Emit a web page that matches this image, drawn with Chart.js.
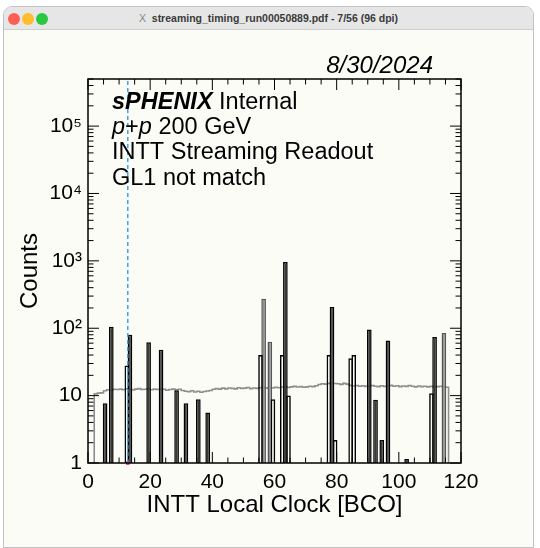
<!DOCTYPE html>
<html>
<head>
<meta charset="utf-8">
<script src="https://cdn.jsdelivr.net/npm/chart.js@4.4.1/dist/chart.umd.min.js"></script>
<style>
  html, body { margin: 0; padding: 0; background: #fff; width: 540px; height: 548px; overflow: hidden; }
  #win { position: absolute; left: 3px; top: 6px; width: 529px; height: 540px; background: #fcfcf7;
         border: 1px solid #c2c2c2; border-radius: 9px 9px 0 0; overflow: hidden; }
  #bar { position: relative; height: 22px; background: #e6e6e6; border-bottom: 1px solid #cfcfcf;
         font: bold 10.5px 'Liberation Sans', Arial, sans-serif; color: #3a3a3a; text-align: center; line-height: 22px; }
  .dot { position: absolute; top: 6px; width: 12px; height: 12px; border-radius: 50%; }
  #box { position: absolute; left: 0; top: 0; width: 540px; height: 548px; }
</style>
</head>
<body>
<div id="win">
  <div id="bar">
    <span class="dot" style="left:4px;background:#fe5f57"></span>
    <span class="dot" style="left:18px;background:#febc2e"></span>
    <span class="dot" style="left:32px;background:#28c840"></span>
    <span style="color:#888;font-weight:normal">X</span>&nbsp; streaming_timing_run00050889.pdf - 7/56 (96 dpi)
  </div>
</div>
<div id="box"><canvas id="c" width="540" height="548"></canvas></div>
<script>
// histogram bins (BCO) and counts
const darkBins   = [5, 7, 13, 19, 23, 28, 31, 35, 38, 63, 78, 90, 92, 94, 96, 102, 111];
const darkCounts = [7.7, 105, 80, 62, 48, 12, 7.7, 8.8, 5.6, 960, 207, 96, 8.7, 2.2, 66, 1.15, 74];
const openBins   = [12, 55, 59, 62, 64, 77, 79, 84, 85, 110];
const openCounts = [28, 40, 8.8, 40, 10, 40, 2.2, 36, 40, 10.8];
const grayBins   = [56, 58, 114];
const grayCounts = [275, 63, 85];

// flat "not matched" distribution, bins 2..115
const noiseStartBin = 2;
const noiseCounts = [
  10.6, 10.9, 11.0,
  11.8, 12.2, 12.0, 12.4, 12.3,
  12.5, 12.2, 12.6, 12.4, 12.1, 12.5, 12.7, 12.3, 12.4, 12.6,
  12.2, 12.5, 12.3, 12.6, 12.4, 12.0, 12.3, 12.5, 12.2, 12.4,
  11.9, 11.6, 11.4, 11.8, 11.3, 11.6, 11.2, 11.5, 11.7, 11.9,
  12.4, 12.7, 12.5, 12.9, 12.6, 13.0, 12.8, 12.6, 13.1, 12.8,
  12.9, 13.2, 12.7, 13.0, 12.8, 13.1, 13.3, 12.9, 13.2, 13.0,
  13.3, 13.1, 13.4, 13.6, 13.2, 13.5, 13.7, 13.4, 13.6, 13.3,
  13.5, 13.8, 13.6, 14.0, 14.6, 15.0, 14.8, 15.2, 14.9, 15.1,
  15.0, 14.7, 15.2, 14.8, 14.2, 13.9, 14.1, 13.8, 14.0, 13.7,
  13.9, 14.1, 13.8, 13.6, 14.0, 13.7, 13.9, 14.2, 13.8, 14.0,
  13.6, 13.9, 13.7, 14.1, 13.8, 13.5, 13.9, 13.6, 13.8, 13.5,
  13.7, 13.4, 13.6, 13.8, 13.5, 13.3
];

const markerBCO = 12.8;
const xTicks = [0, 20, 40, 60, 80, 100, 120];
const yTicks = [1, 10, 100, 1000, 10000, 100000];
const yTickLabels = ['1', '10', '10²', '10³', '10⁴', '10⁵'];
const yMax = 5e5;

const dateText = '8/30/2024';
const labelLines = ['p+p 200 GeV', 'INTT Streaming Readout', 'GL1 not match'];

const FONT = "'Liberation Sans', Arial, sans-serif";
Chart.defaults.font.family = FONT;
Chart.defaults.color = '#000';

function toPoints(bins, counts) {
  return bins.map(function (b, i) { return { x: b + 0.5, y: counts[i] }; });
}

var noisePoints = [{ x: noiseStartBin, y: 1 }];
noiseCounts.forEach(function (c, i) { noisePoints.push({ x: noiseStartBin + i, y: c }); });
var noiseEnd = noiseStartBin + noiseCounts.length;
noisePoints.push({ x: noiseEnd, y: noiseCounts[noiseCounts.length - 1] }, { x: noiseEnd, y: 1 });

// ROOT-like frame: ticks inside on all four sides, plus the labels
const rootFrame = {
  id: 'rootFrame',
  afterDatasetsDraw: function (chart) {
    var ctx = chart.ctx, a = chart.chartArea, x = chart.scales.x, y = chart.scales.y;
    ctx.save();
    ctx.strokeStyle = '#000';
    ctx.lineWidth = 1;
    ctx.beginPath();
    for (var v = x.min; v <= x.max; v += 5) {
      var px = x.getPixelForValue(v);
      var len = xTicks.indexOf(v) >= 0 ? 11 : 5.5;
      ctx.moveTo(px, a.bottom); ctx.lineTo(px, a.bottom - len);
      ctx.moveTo(px, a.top); ctx.lineTo(px, a.top + len);
    }
    for (var d = 1; d <= yMax; d *= 10) {
      for (var m = 1; m <= 9; m++) {
        var val = d * m;
        if (val > yMax) break;
        var py = y.getPixelForValue(val);
        var l = m === 1 ? 11 : 5.5;
        ctx.moveTo(a.left, py); ctx.lineTo(a.left + l, py);
        ctx.moveTo(a.right, py); ctx.lineTo(a.right - l, py);
      }
    }
    ctx.stroke();
    ctx.lineWidth = 1.5;
    ctx.strokeRect(a.left, a.top, a.right - a.left, a.bottom - a.top);

    ctx.fillStyle = '#000';
    ctx.textBaseline = 'alphabetic';
    // date
    ctx.font = 'italic 24px ' + FONT;
    ctx.textAlign = 'right';
    ctx.fillText(dateText, 433, 73);
    // label block
    ctx.textAlign = 'left';
    var x0 = 112, base = 109, step = 25.2;
    ctx.font = 'bold italic 23.5px ' + FONT;
    ctx.fillText('sPHENIX', x0, base);
    var w = ctx.measureText('sPHENIX').width;
    ctx.font = '23.5px ' + FONT;
    ctx.fillText(' Internal', x0 + w, base);
    // p+p line with italic p's
    var yy = base + step, cx = x0;
    var parts = [['p', 'italic'], ['+', ''], ['p', 'italic'], [labelLines[0].slice(3), '']];
    parts.forEach(function (p) {
      ctx.font = (p[1] ? p[1] + ' ' : '') + '23.5px ' + FONT;
      ctx.fillText(p[0], cx, yy);
      cx += ctx.measureText(p[0]).width;
    });
    ctx.font = '23.5px ' + FONT;
    ctx.fillText(labelLines[1], x0, base + 2 * step);
    ctx.fillText(labelLines[2], x0, base + 3 * step);
    ctx.restore();
  }
};

new Chart(document.getElementById('c'), {
  data: {
    datasets: [
      {
        type: 'line', data: [{ x: markerBCO, y: 1 }, { x: markerBCO, y: yMax }],
        borderColor: '#3ba2f2', borderWidth: 1.5, borderDash: [4, 3], pointRadius: 0
      },
      {
        type: 'scatter', data: [{ x: markerBCO, y: 1 }], clip: false,
        pointStyle: 'rect', pointRadius: 2.5, backgroundColor: '#f0202a', borderColor: '#f0202a', borderWidth: 0
      },
      {
        type: 'bar', data: toPoints(darkBins, darkCounts), grouped: false,
        backgroundColor: '#3a3a3a', borderColor: '#000', borderWidth: 1.5,
        barPercentage: 1.5, categoryPercentage: 1
      },
      {
        type: 'bar', data: toPoints(openBins, openCounts), grouped: false,
        backgroundColor: 'rgba(0,0,0,0)', borderColor: '#000', borderWidth: 1.5,
        barPercentage: 1.5, categoryPercentage: 1
      },
      {
        type: 'bar', data: toPoints(grayBins, grayCounts), grouped: false,
        backgroundColor: '#8f8f8f', borderColor: '#555', borderWidth: 1.5,
        barPercentage: 1.5, categoryPercentage: 1
      },
      {
        type: 'line', data: noisePoints, stepped: 'before',
        borderColor: '#8e8e8e', borderWidth: 1.6, pointRadius: 0, fill: false
      }
    ]
  },
  options: {
    responsive: false,
    animation: false,
    devicePixelRatio: 1,
    layout: { padding: { top: 79, right: 79, bottom: 24, left: 0 } },
    plugins: { legend: { display: false }, tooltip: { enabled: false } },
    scales: {
      x: {
        type: 'linear', min: 0, max: 120, offset: false,
        grid: { display: false, drawTicks: false }, border: { display: false },
        afterBuildTicks: function (s) { s.ticks = xTicks.map(function (v) { return { value: v }; }); },
        afterFit: function (s) { s.height = 61; },
        ticks: { font: { size: 21 }, padding: 7, maxRotation: 0, autoSkip: false },
        title: { display: true, text: 'INTT Local Clock [BCO]', font: { size: 24 }, padding: { top: 0, bottom: 4 } }
      },
      y: {
        type: 'logarithmic', min: 1, max: yMax,
        grid: { display: false, drawTicks: false }, border: { display: false },
        afterBuildTicks: function (s) { s.ticks = yTicks.map(function (v) { return { value: v }; }); },
        afterFit: function (s) { s.width = 88; },
        ticks: {
          font: { size: 21 }, padding: 6, autoSkip: false,
          callback: function (v) { return yTickLabels[yTicks.indexOf(v)]; }
        },
        title: { display: true, text: 'Counts', font: { size: 24 }, padding: { top: 16, bottom: 0 } }
      }
    }
  },
  plugins: [rootFrame]
});
</script>
</body>
</html>
